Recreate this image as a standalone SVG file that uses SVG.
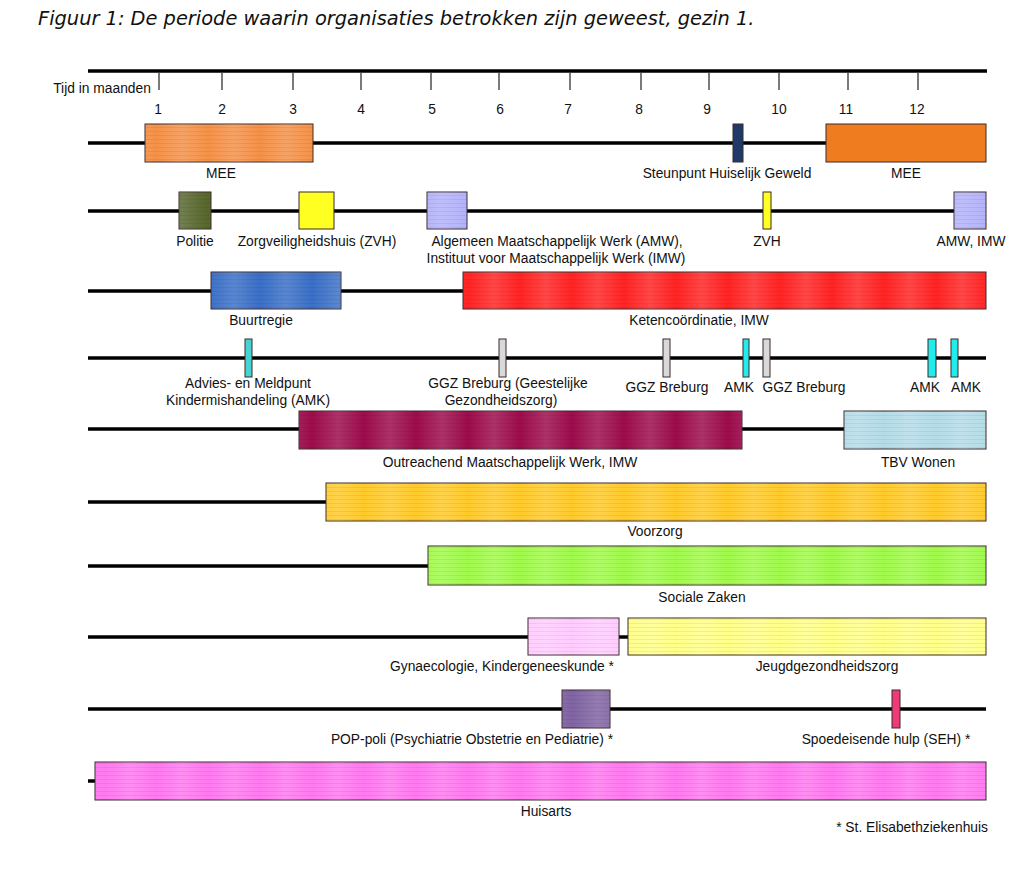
<svg xmlns="http://www.w3.org/2000/svg" width="1024" height="886" viewBox="0 0 1024 886">
<defs>
<linearGradient id="band" x1="0" y1="0" x2="1" y2="0">
<stop offset="0" stop-color="#fff" stop-opacity="0"/>
<stop offset="0.5" stop-color="#fff" stop-opacity="0.16"/>
<stop offset="1" stop-color="#fff" stop-opacity="0"/>
</linearGradient>
<pattern id="tex" width="52" height="4" patternUnits="userSpaceOnUse">
<rect x="0" y="0" width="52" height="4" fill="url(#band)"/>
<rect x="0" y="3" width="52" height="1" fill="#000" fill-opacity="0.06"/>
</pattern>
<style>
.t{font-family:"Liberation Sans",Arial,sans-serif;font-size:13.8px;fill:#111;text-anchor:middle}
.num{font-family:"Liberation Sans",Arial,sans-serif;font-size:13.8px;fill:#111;text-anchor:middle}
.title{font-family:"DejaVu Sans",Verdana,sans-serif;font-style:italic;font-size:19.4px;fill:#111}
.box{stroke:#3a2a2a;stroke-width:1}
.tx{fill:url(#tex);stroke:none}
.ln{stroke:#000;stroke-width:3.5;fill:none}
.tick{stroke:#333;stroke-width:1.3}
</style>
</defs>
<rect width="1024" height="886" fill="#fff"/>
<text class="title" x="38" y="25">Figuur 1: De periode waarin organisaties betrokken zijn geweest, gezin 1.</text>

<g id="axis">
<line class="ln" x1="88" y1="71" x2="987" y2="71"/>
<g class="tickgrp">
<line class="tick" x1="159" y1="73" x2="159" y2="90"/>
<line class="tick" x1="222" y1="73" x2="222" y2="90"/>
<line class="tick" x1="293" y1="73" x2="293" y2="90"/>
<line class="tick" x1="361" y1="73" x2="361" y2="90"/>
<line class="tick" x1="431" y1="73" x2="431" y2="90"/>
<line class="tick" x1="499" y1="73" x2="499" y2="90"/>
<line class="tick" x1="570" y1="73" x2="570" y2="90"/>
<line class="tick" x1="641" y1="73" x2="641" y2="90"/>
<line class="tick" x1="709" y1="73" x2="709" y2="90"/>
<line class="tick" x1="779" y1="73" x2="779" y2="90"/>
<line class="tick" x1="848" y1="73" x2="848" y2="90"/>
<line class="tick" x1="918" y1="73" x2="918" y2="90"/>
</g>
<text class="t" x="102" y="93">Tijd in maanden</text>
<text class="num" x="158" y="114">1</text>
<text class="num" x="222" y="114">2</text>
<text class="num" x="293" y="114">3</text>
<text class="num" x="361" y="114">4</text>
<text class="num" x="432" y="114">5</text>
<text class="num" x="500" y="114">6</text>
<text class="num" x="568" y="114">7</text>
<text class="num" x="639" y="114">8</text>
<text class="num" x="707" y="114">9</text>
<text class="num" x="779" y="114">10</text>
<text class="num" x="846" y="114">11</text>
<text class="num" x="917" y="114">12</text>
</g>

<g id="connectors">
<line class="ln" x1="88" y1="143" x2="986" y2="143"/>
<line class="ln" x1="88" y1="211" x2="986" y2="211"/>
<line class="ln" x1="88" y1="291" x2="986" y2="291"/>
<line class="ln" x1="88" y1="358" x2="986" y2="358"/>
<line class="ln" x1="88" y1="429" x2="986" y2="429"/>
<line class="ln" x1="88" y1="502" x2="326" y2="502"/>
<line class="ln" x1="88" y1="566" x2="428" y2="566"/>
<line class="ln" x1="88" y1="637" x2="986" y2="637"/>
<line class="ln" x1="88" y1="709" x2="986" y2="709"/>
<line class="ln" x1="88" y1="781" x2="96" y2="781"/>
</g>

<g id="mee1"><rect class="box" x="145" y="124" width="168" height="38" fill="#f59148"/><rect class="tx" x="145" y="124" width="168" height="38"/><text class="t" x="221" y="178">MEE</text></g>
<g id="steunpunt"><rect class="box" x="733" y="124" width="10" height="38" fill="#1f3a68"/><text class="t" x="727" y="178">Steunpunt Huiselijk Geweld</text></g>
<g id="mee2"><rect class="box" x="826" y="124" width="160" height="38" fill="#f07c20"/><text class="t" x="906" y="178">MEE</text></g>

<g id="politie"><rect class="box" x="179" y="192" width="32" height="37" fill="#56662c"/><rect class="tx" x="179" y="192" width="32" height="37"/><text class="t" x="195" y="246">Politie</text></g>
<g id="zvh1"><rect class="box" x="299" y="192" width="35" height="37" fill="#ffff22"/><text class="t" x="317" y="246">Zorgveiligheidshuis (ZVH)</text></g>
<g id="amw1"><rect class="box" x="427" y="192" width="40" height="37" fill="#b2b2fa"/><rect class="tx" x="427" y="192" width="40" height="37"/><text class="t" x="557" y="246">Algemeen Maatschappelijk Werk (AMW),</text><text class="t" x="556" y="263">Instituut voor Maatschappelijk Werk (IMW)</text></g>
<g id="zvh2"><rect class="box" x="763" y="192" width="8" height="37" fill="#ffff22"/><text class="t" x="767" y="246">ZVH</text></g>
<g id="amw2"><rect class="box" x="954" y="192" width="32" height="37" fill="#b2b2fa"/><rect class="tx" x="954" y="192" width="32" height="37"/><text class="t" x="971" y="246">AMW, IMW</text></g>

<g id="buurtregie"><rect class="box" x="211" y="272" width="130" height="37" fill="#3a6fc6"/><rect class="tx" x="211" y="272" width="130" height="37"/><text class="t" x="261" y="325">Buurtregie</text></g>
<g id="keten"><rect class="box" x="463" y="272" width="523" height="37" fill="#ff2424"/><rect class="tx" x="463" y="272" width="523" height="37"/><text class="t" x="699" y="325">Ketencoördinatie, IMW</text></g>

<g id="amk1"><rect class="box" x="245" y="339" width="7" height="38" fill="#48d2d2"/><text class="t" x="248" y="388">Advies- en Meldpunt</text><text class="t" x="248" y="405">Kindermishandeling (AMK)</text></g>
<g id="ggz1"><rect class="box" x="499" y="339" width="7" height="38" fill="#d9d9d9"/><text class="t" x="508" y="388">GGZ Breburg (Geestelijke</text><text class="t" x="501" y="405">Gezondheidszorg)</text></g>
<g id="ggz2"><rect class="box" x="663" y="339" width="7" height="38" fill="#d9d9d9"/><text class="t" x="667" y="392">GGZ Breburg</text></g>
<g id="amk2"><rect class="box" x="743" y="339" width="6" height="38" fill="#22ecec"/><text class="t" x="739" y="392">AMK</text></g>
<g id="ggz3"><rect class="box" x="763" y="339" width="7" height="38" fill="#d9d9d9"/><text class="t" x="804" y="392">GGZ Breburg</text></g>
<g id="amk3"><rect class="box" x="928" y="339" width="8" height="38" fill="#22ecec"/><text class="t" x="925" y="392">AMK</text></g>
<g id="amk4"><rect class="box" x="951" y="339" width="7" height="38" fill="#22ecec"/><text class="t" x="966" y="392">AMK</text></g>

<g id="outreach"><rect class="box" x="299" y="411" width="443" height="38" fill="#9c0c4c"/><rect class="tx" x="299" y="411" width="443" height="38"/><text class="t" x="510" y="467">Outreachend Maatschappelijk Werk, IMW</text></g>
<g id="tbv"><rect class="box" x="844" y="411" width="142" height="38" fill="#b4dce8"/><rect class="tx" x="844" y="411" width="142" height="38"/><text class="t" x="918" y="467">TBV Wonen</text></g>

<g id="voorzorg"><rect class="box" x="326" y="483" width="660" height="38" fill="#ffca2a"/><rect class="tx" x="326" y="483" width="660" height="38"/><text class="t" x="655" y="536">Voorzorg</text></g>

<g id="sociale"><rect class="box" x="428" y="546" width="558" height="39" fill="#a0fa4a"/><rect class="tx" x="428" y="546" width="558" height="39"/><text class="t" x="702" y="602">Sociale Zaken</text></g>

<g id="gyn"><rect class="box" x="528" y="618" width="91" height="37" fill="#ffccff"/><rect class="tx" x="528" y="618" width="91" height="37"/><text class="t" x="502" y="671">Gynaecologie, Kindergeneeskunde *</text></g>
<g id="jeugd"><rect class="box" x="628" y="618" width="358" height="37" fill="#ffff88"/><rect class="tx" x="628" y="618" width="358" height="37"/><text class="t" x="827" y="671">Jeugdgezondheidszorg</text></g>

<g id="pop"><rect class="box" x="562" y="690" width="48" height="38" fill="#8064a2"/><rect class="tx" x="562" y="690" width="48" height="38"/><text class="t" x="472" y="744">POP-poli (Psychiatrie Obstetrie en Pediatrie) *</text></g>
<g id="seh"><rect class="box" x="892" y="690" width="8" height="38" fill="#ee3a78"/><text class="t" x="886" y="744">Spoedeisende hulp (SEH) *</text></g>

<g id="huisarts"><rect class="box" x="95" y="762" width="891" height="38" fill="#ff78f0"/><rect class="tx" x="95" y="762" width="891" height="38"/><text class="t" x="546" y="816">Huisarts</text></g>
<text class="t" x="988" y="832" style="text-anchor:end">* St. Elisabethziekenhuis</text>
</svg>
